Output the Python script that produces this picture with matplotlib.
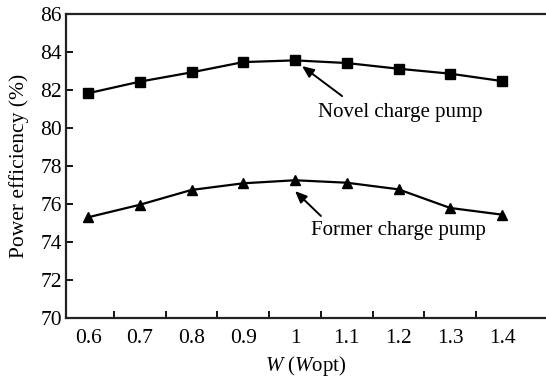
import numpy as np
import matplotlib
matplotlib.use("Agg")
import matplotlib.pyplot as plt
from matplotlib.ticker import MultipleLocator, FixedLocator

plt.rcParams["font.family"] = ["Liberation Serif", "DejaVu Serif"]
plt.rcParams["mathtext.fontset"] = "custom"
plt.rcParams["mathtext.rm"] = "Liberation Serif"
plt.rcParams["mathtext.it"] = "Liberation Serif:italic"

# W relative to W_opt
w = [0.6, 0.7, 0.8, 0.9, 1.0, 1.1, 1.2, 1.3, 1.4]
novel = [81.83, 82.44, 82.93, 83.47, 83.56, 83.42, 83.12, 82.86, 82.47]
former = [75.30, 75.96, 76.74, 77.09, 77.25, 77.12, 76.77, 75.79, 75.44]
x_tick_labels = ["0.6", "0.7", "0.8", "0.9", "1", "1.1", "1.2", "1.3", "1.4"]

fig = plt.figure(figsize=(5.46, 3.79), dpi=100)
ax = fig.add_axes([0.121, 0.161, 0.879, 0.802])

ax.plot(w, novel, "s-", color="black", linewidth=1.6, markersize=6.5)
ax.plot(w, former, "^-", color="black", linewidth=1.6, markersize=7)

# arrows (tail -> head) and labels placed separately
arrow = dict(arrowstyle="-|>,head_length=0.7,head_width=0.3",
             color="black", linewidth=1.4, shrinkA=0, shrinkB=0)
ax.annotate("", xy=(1.0135, 83.26), xytext=(1.091, 81.68), arrowprops=arrow)
ax.annotate("", xy=(1.0, 76.68), xytext=(1.050, 75.37), arrowprops=arrow)
ax.text(1.203, 80.84, "Novel charge pump", fontsize=15, ha="center", va="center")
ax.text(1.199, 74.58, "Former charge pump", fontsize=15, ha="center", va="center")

ax.set_xlim(0.5575, 1.485)
ax.set_ylim(70, 86)
ax.set_xticks(w)
ax.set_xticklabels(x_tick_labels)
ax.xaxis.set_minor_locator(FixedLocator(np.arange(0.65, 1.36, 0.1)))
ax.yaxis.set_major_locator(MultipleLocator(2))

ax.tick_params(axis="x", which="major", length=0, pad=8, labelsize=15.5)
ax.tick_params(axis="x", which="minor", direction="in", length=5, width=1.3)
ax.tick_params(axis="y", which="major", direction="in", length=5, width=1.3,
               pad=3, labelsize=15.5)

ax.spines["right"].set_visible(False)
for s in ["left", "bottom", "top"]:
    ax.spines[s].set_linewidth(1.6)
    ax.spines[s].set_color("#222222")

ax.set_xlabel("$W$ ($W$opt)", fontsize=15, labelpad=4)
ax.set_ylabel("Power efficiency (%)", fontsize=15.5, labelpad=8)

fig.savefig("out.png", dpi=100, facecolor="white")
